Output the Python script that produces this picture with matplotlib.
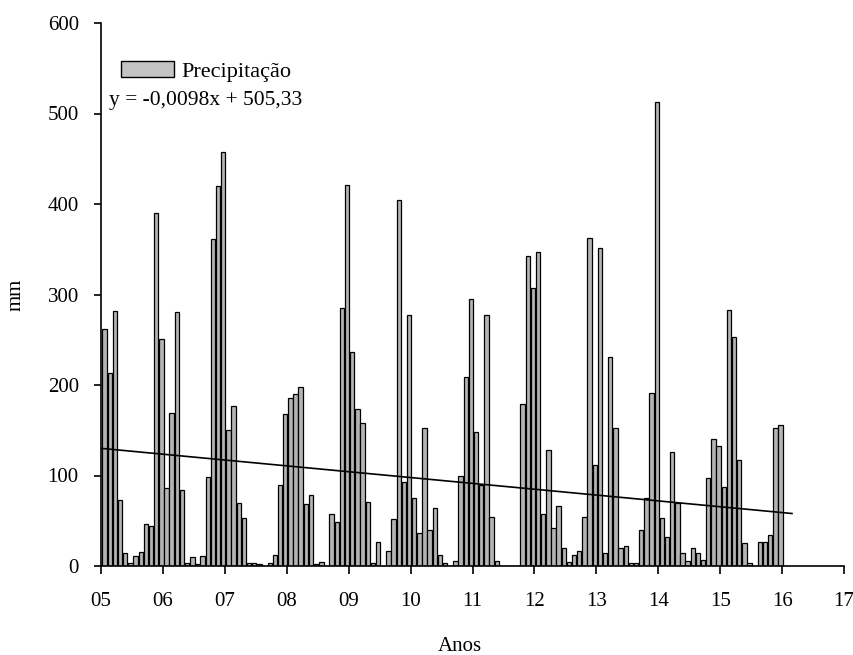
import numpy as np
import matplotlib
matplotlib.use("Agg")
import matplotlib.pyplot as plt

# ================= DATA ================= #
# monthly rainfall (mm), Jan..Dec, one list per year
years = [5, 6, 7, 8, 9, 10, 11, 12, 13, 14, 15]
p2005 = [262, 213, 282, 73, 14, 3, 11, 15, 46, 44, 390, 251]
p2006 = [86, 169, 281, 84, 3, 10, 2, 11, 98, 361, 420, 457]
p2007 = [150, 177, 70, 53, 3, 3, 2, 0, 3, 12, 90, 168]
p2008 = [186, 190, 198, 68, 79, 2, 4, 0, 58, 49, 285, 421]
p2009 = [236, 173, 158, 71, 3, 26, 0, 17, 52, 404, 93, 277]
p2010 = [75, 37, 153, 40, 64, 12, 3, 0, 5, 99, 209, 295]
p2011 = [148, 89, 277, 54, 5, 0, 0, 0, 0, 179, 342, 307]
p2012 = [347, 58, 128, 42, 66, 20, 4, 12, 17, 54, 362, 112]
p2013 = [351, 14, 231, 152, 20, 22, 3, 3, 40, 75, 191, 513]
p2014 = [53, 32, 126, 70, 14, 6, 20, 14, 7, 97, 140, 133]
p2015 = [87, 283, 253, 117, 25, 3, 0, 27, 27, 34, 153, 156]

# trend line as drawn (year, mm)
trend_years = [5.0, 16.16]
trend_mm = [130, 58]

x_ticks = list(range(5, 18))
x_labels = [f"{v:02d}" for v in x_ticks]
y_ticks = [0, 100, 200, 300, 400, 500, 600]

# ================= STYLE ================= #
plt.rcParams["font.family"] = ["Liberation Serif", "DejaVu Serif"]
FS = 15

rain = np.array(p2005 + p2006 + p2007 + p2008 + p2009 + p2010 +
                p2011 + p2012 + p2013 + p2014 + p2015, dtype=float)
months = np.arange(len(rain))
xpos = years[0] + (months + 0.7) / 12.0

W, H = 854, 655
AX_L, AX_R, AX_T, AX_B = 101, 844, 23, 566
fig = plt.figure(figsize=(W / 100, H / 100), dpi=100)
ax = fig.add_axes([AX_L / W, 1 - AX_B / H, (AX_R - AX_L) / W, (AX_B - AX_T) / H])
aw, ah = AX_R - AX_L, AX_B - AX_T

bars = ax.bar(xpos, rain, width=0.85 / 12, color="#b4b4b4",
              edgecolor="black", linewidth=0.9, label="Precipitação", zorder=2)
ax.plot(trend_years, trend_mm, color="black", linewidth=1.2, zorder=3)

ax.set_xlim(5, 17)
ax.set_ylim(0, 600)
ax.set_xticks(x_ticks)
ax.set_xticklabels(x_labels)
ax.set_yticks(y_ticks)

for side in ["top", "right"]:
    ax.spines[side].set_visible(False)
for side in ["left", "bottom"]:
    ax.spines[side].set_linewidth(1.2)

ax.tick_params(axis="x", direction="out", length=6, width=1.2, pad=13, labelsize=FS)
ax.tick_params(axis="y", direction="out", length=5, width=1.2, pad=11, labelsize=FS)

ax.set_xlabel("Anos", fontsize=FS)
ax.set_ylabel("mm", fontsize=FS)
ax.xaxis.set_label_coords((460 - AX_L) / aw, (AX_B - 637) / ah)
ax.yaxis.set_label_coords((26 - AX_L) / aw, 0.5)

leg = ax.legend(handles=[bars], loc="upper left", frameon=False,
                bbox_to_anchor=((121 - AX_L) / aw, (AX_B - 61) / ah),
                fontsize=FS + 1, borderpad=0, borderaxespad=0,
                handlelength=2.4, handleheight=0.7, handletextpad=0.3)
for h in leg.legend_handles:
    h.set_facecolor("#c4c4c4")
    h.set_edgecolor("black")
    h.set_linewidth(1.0)

ax.text((109 - AX_L) / aw, (AX_B - 101) / ah, "y = -0,0098x + 505,33",
        transform=ax.transAxes, fontsize=FS + 0.5, va="center", ha="left")

fig.savefig("out.png", dpi=100)
